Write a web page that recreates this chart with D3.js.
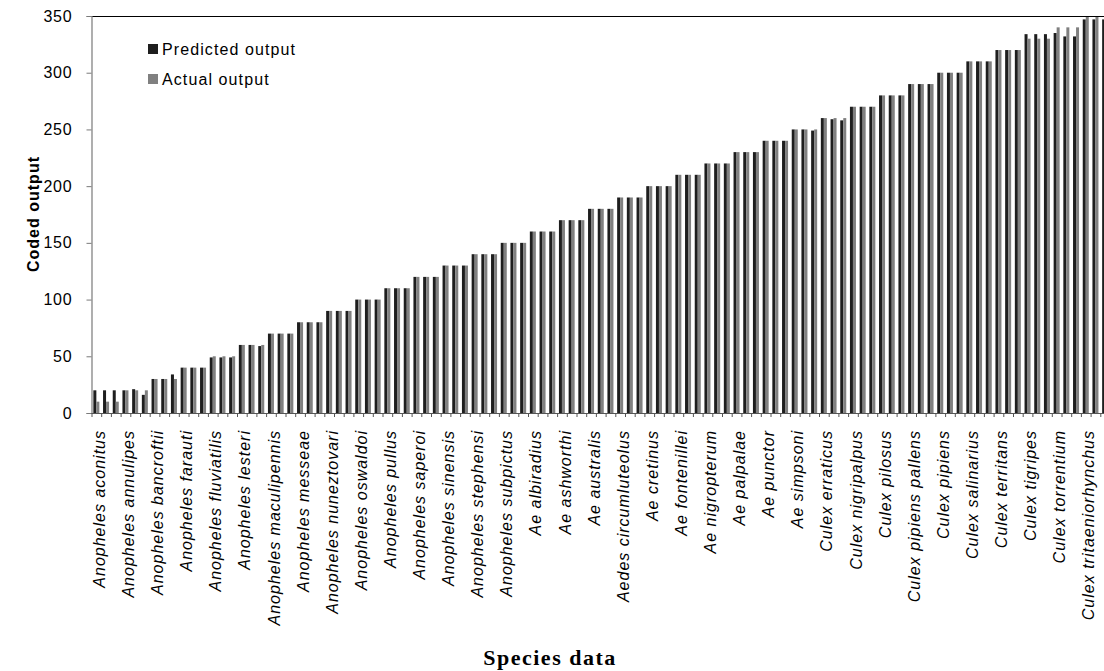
<!DOCTYPE html>
<html>
<head>
<meta charset="utf-8">
<script src="https://cdn.jsdelivr.net/npm/d3@7"></script>
<style>
  html, body { margin: 0; padding: 0; background: #fff; }
  svg { display: block; }
  .tick text { font-family: "Liberation Sans", Arial, sans-serif; }
</style>
</head>
<body>
<svg id="chart" width="1104" height="671"></svg>
<script>
// Species (three samples each along the x axis)
const species = [
  "Anopheles aconitus", "Anopheles annulipes", "Anopheles bancroftii", "Anopheles farauti",
  "Anopheles fluviatilis", "Anopheles lesteri", "Anopheles maculipennis", "Anopheles messeae",
  "Anopheles nuneztovari", "Anopheles oswaldoi", "Anopheles pullus", "Anopheles saperoi",
  "Anopheles sinensis", "Anopheles stephensi", "Anopheles subpictus", "Ae albiradius",
  "Ae ashworthi", "Ae australis", "Aedes circumluteolus", "Ae cretinus", "Ae fontenillei",
  "Ae nigropterum", "Ae palpalae", "Ae punctor", "Ae simpsoni", "Culex erraticus",
  "Culex nigripalpus", "Culex pilosus", "Culex pipiens pallens", "Culex pipiens",
  "Culex salinarius", "Culex territans", "Culex tigripes", "Culex torrentium",
  "Culex tritaeniorhynchus"
];
const samplesPerSpecies = 3;

// Network output for every sample
const predicted = [
  20, 20, 20,   20, 21, 16,   30, 30, 34,   40, 40, 40,   49, 49, 49,
  60, 60, 59,   70, 70, 70,   80, 80, 80,   90, 90, 90,   100, 100, 100,
  110, 110, 110, 120, 120, 120, 130, 130, 130, 140, 140, 140, 150, 150, 150,
  160, 160, 160, 170, 170, 170, 180, 180, 180, 190, 190, 190, 200, 200, 200,
  210, 210, 210, 220, 220, 220, 230, 230, 230, 240, 240, 240, 250, 250, 249,
  260, 259, 258, 270, 270, 270, 280, 280, 280, 290, 290, 290, 300, 300, 300,
  310, 310, 310, 320, 320, 320, 334, 334, 334, 335, 332, 332, 347, 347, 347
];
// Target (coded) output for every sample
const actual = [
  10, 10, 10,   20, 20, 20,   30, 30, 30,   40, 40, 40,   50, 50, 50,
  60, 60, 60,   70, 70, 70,   80, 80, 80,   90, 90, 90,   100, 100, 100,
  110, 110, 110, 120, 120, 120, 130, 130, 130, 140, 140, 140, 150, 150, 150,
  160, 160, 160, 170, 170, 170, 180, 180, 180, 190, 190, 190, 200, 200, 200,
  210, 210, 210, 220, 220, 220, 230, 230, 230, 240, 240, 240, 250, 250, 250,
  260, 260, 260, 270, 270, 270, 280, 280, 280, 290, 290, 290, 300, 300, 300,
  310, 310, 310, 320, 320, 320, 330, 330, 330, 340, 340, 340, 350, 350, 350
];

const seriesNames = ["Predicted output", "Actual output"];
const seriesColors = ["#1e1e1e", "#808080"];
const yTicks = [0, 50, 100, 150, 200, 250, 300, 350];

const samples = predicted.map((p, i) => ({
  idx: i,
  species: species[Math.floor(i / samplesPerSpecies)],
  values: [p, actual[i]]
}));

const svg = d3.select("#chart");
const plot = { left: 91.5, right: 1110, top: 16, bottom: 413 };

const x0 = d3.scaleBand()
  .domain(samples.map(d => d.idx))
  .range([plot.left, plot.right])
  .paddingInner(0.38)
  .paddingOuter(0.19);

const x1 = d3.scaleBand()
  .domain([0, 1])
  .range([0, x0.bandwidth()]);

const y = d3.scaleLinear().domain([0, 350]).range([plot.bottom, plot.top]);

// Bars
const groups = svg.append("g").selectAll("g")
  .data(samples)
  .join("g")
  .attr("transform", d => `translate(${x0(d.idx)},0)`);

groups.selectAll("rect")
  .data(d => d.values.map((v, s) => ({ v, s })))
  .join("rect")
  .attr("x", d => x1(d.s))
  .attr("width", x1.bandwidth())
  .attr("y", d => y(d.v))
  .attr("height", d => y(0) - y(d.v))
  .attr("fill", d => seriesColors[d.s]);

// Top border of the plot area
svg.append("line")
  .attr("x1", plot.left).attr("x2", plot.right)
  .attr("y1", plot.top + 0.5).attr("y2", plot.top + 0.5)
  .attr("stroke", "#000").attr("stroke-width", 1.2);

// Y axis
const yAxis = svg.append("g")
  .attr("transform", `translate(${plot.left},0)`)
  .call(d3.axisLeft(y).tickValues(yTicks).tickSize(5).tickPadding(14));
yAxis.select(".domain").attr("stroke", "#7a7a7a").attr("stroke-width", 1.2);
yAxis.selectAll(".tick line").attr("stroke", "#7a7a7a");
yAxis.selectAll(".tick text")
  .attr("font-size", 16).attr("letter-spacing", "0.8px").attr("fill", "#000");

// X axis: a tick mark at every category boundary
const step = x0.step();
const xAxisG = svg.append("g");
xAxisG.append("line")
  .attr("x1", plot.left).attr("x2", plot.right)
  .attr("y1", plot.bottom + 0.5).attr("y2", plot.bottom + 0.5)
  .attr("stroke", "#555").attr("stroke-width", 1.2);
xAxisG.selectAll("line.tk")
  .data(d3.range(samples.length + 1))
  .join("line")
  .attr("class", "tk")
  .attr("x1", i => plot.left + i * step + 0.5)
  .attr("x2", i => plot.left + i * step + 0.5)
  .attr("y1", plot.bottom)
  .attr("y2", plot.bottom + 4)
  .attr("stroke", "#555");

// Species labels, one at the first sample of each species
const labelled = samples.filter(d => d.idx % samplesPerSpecies === 0);
xAxisG.selectAll("text")
  .data(labelled)
  .join("text")
  .attr("transform", d => `translate(${x0(d.idx) + x0.bandwidth() / 2 + 3},430) rotate(-90)`)
  .attr("text-anchor", "end")
  .attr("dy", "0.35em")
  .attr("font-family", "Liberation Sans, Arial, sans-serif")
  .attr("font-style", "italic")
  .attr("font-size", 16)
  .attr("letter-spacing", "1px")
  .attr("fill", "#000")
  .text(d => d.species);

// Axis titles
svg.append("text")
  .attr("transform", "translate(33,214) rotate(-90)")
  .attr("text-anchor", "middle")
  .attr("dy", "0.35em")
  .attr("font-family", "Liberation Sans, Arial, sans-serif")
  .attr("font-weight", "bold")
  .attr("font-size", 16)
  .attr("letter-spacing", "1px")
  .text("Coded output");

svg.append("text")
  .attr("x", 550).attr("y", 665)
  .attr("text-anchor", "middle")
  .attr("font-family", "Liberation Serif, Times New Roman, serif")
  .attr("font-weight", "bold")
  .attr("font-size", 22)
  .attr("letter-spacing", "1.5px")
  .text("Species data");

// Legend
const legend = svg.append("g").selectAll("g")
  .data(seriesNames)
  .join("g")
  .attr("transform", (d, i) => `translate(148,${49 + i * 30})`);
legend.append("rect")
  .attr("x", 0).attr("y", -5).attr("width", 10).attr("height", 10)
  .attr("fill", (d, i) => seriesColors[i]);
legend.append("text")
  .attr("x", 14).attr("dy", "0.35em")
  .attr("font-family", "Liberation Sans, Arial, sans-serif")
  .attr("font-size", 16)
  .attr("letter-spacing", "1.1px")
  .text(d => d);
</script>
</body>
</html>
